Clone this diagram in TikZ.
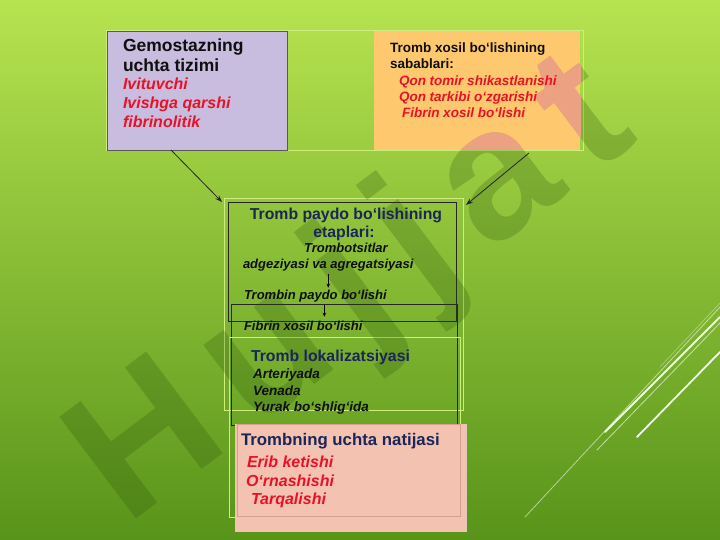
\documentclass[tikz,border=0pt]{standalone}
\usepackage{fontspec}
\setmainfont{Liberation Sans}
\usetikzlibrary{calc,arrows.meta}
\definecolor{bgtop}{RGB}{182,227,80}
\definecolor{bgmid}{RGB}{140,195,58}
\definecolor{bgbot}{RGB}{88,148,26}
\definecolor{lilac}{RGB}{200,189,222}
\definecolor{peach}{RGB}{253,200,110}
\definecolor{pinkbox}{RGB}{243,194,176}
\definecolor{pinkline}{RGB}{215,160,140}
\definecolor{navy}{RGB}{26,38,88}
\definecolor{redtxt}{RGB}{232,18,40}
\definecolor{lightline}{RGB}{205,238,125}
\definecolor{salmon}{RGB}{236,162,130}
\definecolor{wmgreen}{RGB}{40,80,10}
\definecolor{darktxt}{RGB}{15,15,15}
\tikzset{
  box/.style={inner sep=0pt, outer sep=0pt, anchor=north west},
  txt/.style={inner sep=0pt, outer sep=0pt, anchor=base west},
  hdblack/.style={txt, font=\fontsize{17.5}{20}\bfseries, text=darktxt},
  redbig/.style={txt, font=\fontsize{16}{19}\bfseries\itshape, text=redtxt},
  causehd/.style={txt, font=\fontsize{13.5}{16}\bfseries, text=darktxt},
  causered/.style={txt, font=\fontsize{13.5}{16}\bfseries\itshape, text=redtxt},
  navyhd/.style={txt, font=\fontsize{15.8}{18}\bfseries, text=navy},
  smallit/.style={txt, font=\fontsize{13}{15}\bfseries\itshape, text=darktxt},
  locit/.style={txt, font=\fontsize{13.5}{16}\bfseries\itshape, text=darktxt},
  pinkhd/.style={txt, font=\fontsize{16.8}{19}\bfseries, text=navy},
  darkrect/.style={draw=black!85, line width=0.7pt},
  bigarrow/.style={draw=black!85, line width=0.8pt, -{Stealth[length=7pt,width=5pt]}},
  smallarrow/.style={draw=black, line width=0.7pt, -{Stealth[length=4pt,width=3.5pt]}},
  wm/.style={inner sep=0pt, anchor=base west, font=\fontsize{185}{185}\bfseries, rotate=37},
  deco/.style={draw=white, line cap=round}
}
\newcommand{\wmword}{H\kern26pt u\kern26pt j\kern26pt j\kern26pt a\kern26pt t}
\begin{document}
\begin{tikzpicture}[x=1pt,y=-1pt]
\useasboundingbox (0,0) rectangle (720,540);
\shade[top color=bgtop, middle color=bgmid, bottom color=bgbot] (0,0) rectangle (720,540);

% decorative lines
\draw[deco, line width=0.8pt, draw opacity=0.55] (525,517) -- (720,307);
\draw[deco, line width=1.8pt, draw opacity=0.9] (605,432) -- (720,317);
\draw[deco, line width=0.8pt, draw opacity=0.6] (597,450) -- (720,323);
\draw[deco, line width=1.8pt, draw opacity=0.9] (637,437) -- (720,352);
\draw[deco, line width=0.7pt, draw opacity=0.35] (660,367) -- (720,303);

% top boxes
\node[box, draw=lightline, line width=0.8pt, minimum width=477pt, minimum height=120pt] (top) at (106,30) {};
\node[box, fill=lilac, draw=black!65, line width=0.7pt, minimum width=180pt, minimum height=119pt] (gem) at (107,31) {};
\node[box, fill=peach, minimum width=206pt, minimum height=119pt] (cause) at (374,31) {};

% middle boxes
\node[box, draw=lightline, line width=0.8pt, minimum width=239pt, minimum height=212pt] (stages) at (224,198) {};
\node[box, darkrect, minimum width=228pt, minimum height=119pt] (etap) at (228,202) {};
\node[box, darkrect, minimum width=226pt, minimum height=33pt] (fib) at (231,304) {};
\node[box, darkrect, minimum width=226pt, minimum height=88pt] (loc) at (231,337) {};
\node[box, draw=lightline, line width=0.8pt, minimum width=231pt, minimum height=180pt] (inner) at (229,337) {};

% bottom pink box
\node[box, fill=pinkbox, draw=pinkline!60, line width=0.6pt, minimum width=231pt, minimum height=107pt] (res) at (235,424) {};
\node[box, draw=pinkline, line width=0.6pt, minimum width=223pt, minimum height=92pt] (resin) at (237,424) {};

% watermark
\begin{scope}
\clip (0,0) rectangle (720,540);
\node[wm, text=wmgreen, text opacity=0.24] (wmark) at (126,527) {\wmword};
\end{scope}
\begin{scope}
\clip (cause.north west) rectangle (cause.south east);
\node[wm, text=salmon] (wmark2) at (126,527) {\wmword};
\end{scope}

% arrows
\draw[bigarrow] ($(gem.south west)+(64,0)$) -- ($(stages.north west)+(-2,4)$);
\draw[bigarrow] ($(cause.south west)+(155,3)$) -- ($(stages.north east)+(3,7)$);

% texts: left box
\node[hdblack] (g1) at (123,52) {Gemostazning};
\node[hdblack] (g2) at (123,72) {uchta tizimi};
\node[redbig] (g3) at (123,90) {Ivituvchi};
\node[redbig] (g4) at (123,109) {Ivishga qarshi};
\node[redbig] (g5) at (123,128) {fibrinolitik};

% texts: right box
\node[causehd] (c1) at (390,53) {Tromb xosil bo‘lishining};
\node[causehd] (c2) at (390,69) {sabablari:};
\node[causered] (c3) at (399,86) {Qon tomir shikastlanishi};
\node[causered] (c4) at (399,102) {Qon tarkibi o‘zgarishi};
\node[causered] (c5) at (402,118) {Fibrin xosil bo‘lishi};

% texts: stages
\node[navyhd, anchor=base] (t1) at (346,220) {Tromb paydo bo‘lishining};
\node[navyhd, anchor=base] (t2) at (344,237) {etaplari:};
\node[smallit, anchor=base] (t3) at (346,252) {Trombotsitlar};
\node[smallit] (t4) at (243,268) {adgeziyasi va agregatsiyasi};
\node[smallit] (t5) at (244,299) {Trombin paydo bo‘lishi};
\node[smallit] (t6) at (244,330) {Fibrin xosil bo‘lishi};
\draw[smallarrow] ($(t4.south)+(0,3)$) -- ($(t4.south)+(0,17)$);
\draw[smallarrow] ($(t5.south)+(9,3)$) -- ($(t5.south)+(9,15)$);

% texts: localisation
\node[navyhd] (l1) at (251,361) {Tromb lokalizatsiyasi};
\node[locit] (l2) at (253,378) {Arteriyada};
\node[locit] (l3) at (253,395) {Venada};
\node[locit] (l4) at (253,411) {Yurak bo‘shlig‘ida};

% texts: results
\node[pinkhd] (p1) at (241,445) {Trombning uchta natijasi};
\node[redbig] (p2) at (247,467) {Erib ketishi};
\node[redbig] (p3) at (246,486) {O‘rnashishi};
\node[redbig] (p4) at (251,504) {Tarqalishi};
\end{tikzpicture}
\end{document}
